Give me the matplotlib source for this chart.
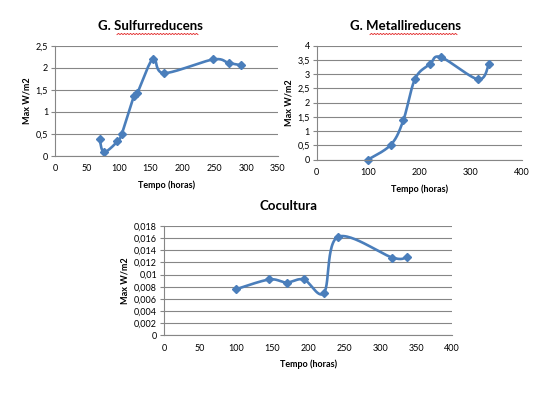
import numpy as np
import matplotlib
matplotlib.use("Agg")
import matplotlib.pyplot as plt
from matplotlib.lines import Line2D
from matplotlib.ticker import FuncFormatter

plt.rcParams['font.family'] = ['Lato', 'DejaVu Sans']

# G. Sulfurreducens
sulf_t = [70, 77, 98, 105, 124, 129, 154, 171, 248, 273, 292]
sulf_w = [0.38, 0.09, 0.33, 0.51, 1.36, 1.42, 2.21, 1.88, 2.19, 2.11, 2.06]

# G. Metallireducens
metal_t = [100, 145, 169, 192, 221, 242, 315, 336]
metal_w = [0.0, 0.53, 1.38, 2.84, 3.35, 3.6, 2.82, 3.35]

# Cocultura
cocu_t = [100, 146, 170, 194, 222, 241, 317, 337]
cocu_w = [0.0076, 0.0092, 0.0087, 0.0092, 0.0070, 0.0162, 0.0128, 0.0129]

blue = '#4A7EBB'
grid = '#868686'


def smooth(ax, xs, ys):
    # excel-like smoothed line: catmull-rom through the points, in display space
    pts = ax.transData.transform(np.column_stack([xs, ys]))
    out = [pts[0]]
    n = len(pts)
    for i in range(n - 1):
        p0 = pts[max(i - 1, 0)]
        p1 = pts[i]
        p2 = pts[i + 1]
        p3 = pts[min(i + 2, n - 1)]
        c1 = p1 + (p2 - p0) / 6
        c2 = p2 - (p3 - p1) / 6
        s = np.linspace(0, 1, 30)[1:, None]
        seg = ((1 - s) ** 3) * p1 + 3 * ((1 - s) ** 2) * s * c1 + 3 * (1 - s) * s ** 2 * c2 + s ** 3 * p2
        out.extend(seg)
    out = np.array(out)
    return ax.transData.inverted().transform(out)


def comma(v, pos):
    s = ('%g' % round(v, 6)).replace('.', ',')
    return s


def panel(fig, rect, xs, ys, xmax, xstep, ymax, ystep):
    ax = fig.add_axes(rect)
    ax.set_xlim(0, xmax)
    ax.set_ylim(0, ymax)
    ax.set_xticks(np.arange(0, xmax + 1e-9, xstep))
    ax.set_yticks(np.arange(0, ymax + 1e-9, ystep))
    ax.yaxis.set_major_formatter(FuncFormatter(comma))
    for s in ['top', 'right']:
        ax.spines[s].set_visible(False)
    for s in ['left', 'bottom']:
        ax.spines[s].set_color(grid)
        ax.spines[s].set_linewidth(0.8)
    ax.grid(axis='y', color=grid, linewidth=0.8)
    ax.set_axisbelow(True)
    ax.tick_params(axis='y', labelsize=6.5, length=3, color=grid, pad=2)
    ax.tick_params(axis='x', labelsize=6.5, length=0, pad=6)
    ax.set_xlabel('Tempo (horas)', fontsize=6.5, fontweight='bold', labelpad=5)
    ax.set_ylabel('Max W/m2', fontsize=6.5, fontweight='bold', labelpad=3)
    sm = smooth(ax, xs, ys)
    ax.plot(sm[:, 0], sm[:, 1], color=blue, linewidth=1.9, clip_on=False)
    ax.plot(xs, ys, linestyle='none', marker='D', markersize=4, color=blue, clip_on=False)
    return ax


fig = plt.figure(figsize=(5.56, 3.95), dpi=100)

panel(fig, [0.0989, 0.605, 0.401, 0.279], sulf_t, sulf_w, 350, 50, 2.5, 0.5)
panel(fig, [0.5696, 0.5957, 0.3687, 0.2886], metal_t, metal_w, 400, 100, 4, 0.5)
panel(fig, [0.295, 0.151, 0.5185, 0.2767], cocu_t, cocu_w, 400, 50, 0.018, 0.002)

W, H = 556, 395
fig.text(150 / W, 1 - 26 / H, 'G. Sulfurreducens', ha='center', va='center', fontsize=9.5, fontweight='bold')
fig.text(406 / W, 1 - 26 / H, 'G. Metallireducens', ha='center', va='center', fontsize=9.5, fontweight='bold')
fig.text(288 / W, 1 - 206 / H, 'Cocultura', ha='center', va='center', fontsize=9.5, fontweight='bold')


def squiggle(x0, x1, y):
    xs = np.arange(x0, x1 + 0.1, 1.5)
    ys = y + np.where(np.arange(len(xs)) % 2 == 0, 0.6, -0.6)
    fig.add_artist(Line2D(xs / W, 1 - ys / H, color='#E02020', linewidth=0.6))


squiggle(117, 199, 34)
squiggle(370, 457, 34)

fig.savefig('out.png', dpi=100)
